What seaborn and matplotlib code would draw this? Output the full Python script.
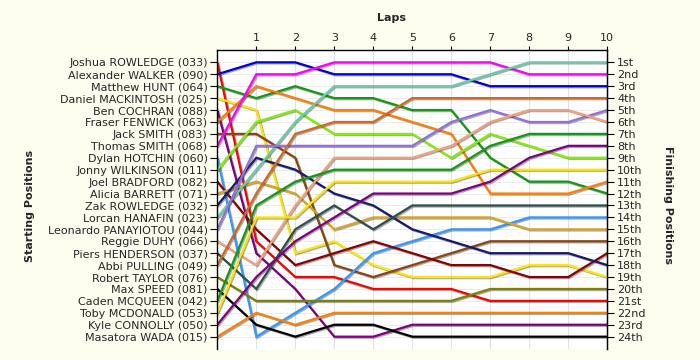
import matplotlib
matplotlib.use("Agg")
import matplotlib.patheffects as pe
import matplotlib.pyplot as plt
import pandas as pd
import seaborn as sns

drivers = [
    "Joshua ROWLEDGE (033)", "Alexander WALKER (090)", "Matthew HUNT (064)",
    "Daniel MACKINTOSH (025)", "Ben COCHRAN (088)", "Fraser FENWICK (063)",
    "Jack SMITH (083)", "Thomas SMITH (068)", "Dylan HOTCHIN (060)",
    "Jonny WILKINSON (011)", "Joel BRADFORD (082)", "Alicia BARRETT (071)",
    "Zak ROWLEDGE (032)", "Lorcan HANAFIN (023)", "Leonardo PANAYIOTOU (044)",
    "Reggie DUHY (066)", "Piers HENDERSON (037)", "Abbi PULLING (049)",
    "Robert TAYLOR (076)", "Max SPEED (081)", "Caden MCQUEEN (042)",
    "Toby MCDONALD (053)", "Kyle CONNOLLY (050)", "Masatora WADA (015)",
]

line_colors = [
    "#ff0000", "#0000dd", "#129a12", "#ffe600", "#800080", "#ff7f00",
    "#8b4513", "#ff00ff", "#3399ff", "#80f000", "#8b0000", "#daa520",
    "#191970", "#66cdaa", "#9370db", "#f4a07c", "#2f4f4f", "#d2691e",
    "#808000", "#000000", "#129a12", "#ffe600", "#800080", "#ff7f00",
]

laps = list(range(11))

# position of each driver (starting order) after each lap
positions = [
    [1, 16, 19, 19, 20, 20, 20, 21, 21, 21, 21],
    [2, 1, 1, 2, 2, 2, 2, 3, 3, 3, 3],
    [3, 4, 3, 4, 4, 5, 5, 9, 11, 11, 12],
    [4, 5, 17, 16, 18, 19, 19, 19, 18, 18, 19],
    [5, 17, 20, 24, 24, 23, 23, 23, 23, 23, 23],
    [6, 3, 4, 5, 5, 6, 7, 12, 12, 12, 11],
    [7, 7, 9, 18, 19, 18, 17, 16, 16, 16, 16],
    [8, 2, 2, 1, 1, 1, 1, 1, 2, 2, 2],
    [9, 24, 22, 20, 17, 16, 15, 15, 14, 14, 14],
    [10, 6, 5, 7, 7, 7, 9, 7, 8, 9, 9],
    [11, 15, 18, 17, 16, 17, 18, 18, 19, 19, 17],
    [12, 11, 12, 15, 14, 14, 14, 14, 15, 15, 15],
    [13, 9, 10, 12, 13, 15, 16, 17, 17, 17, 18],
    [14, 10, 6, 3, 3, 3, 3, 2, 1, 1, 1],
    [15, 8, 8, 8, 8, 8, 6, 5, 6, 6, 5],
    [16, 18, 13, 9, 9, 9, 8, 6, 5, 5, 6],
    [17, 20, 15, 13, 15, 13, 13, 13, 13, 13, 13],
    [18, 12, 7, 6, 6, 4, 4, 4, 4, 4, 4],
    [19, 21, 21, 21, 21, 21, 21, 20, 20, 20, 20],
    [20, 23, 24, 23, 23, 24, 24, 24, 24, 24, 24],
    [21, 13, 11, 10, 10, 10, 10, 8, 7, 7, 7],
    [22, 14, 14, 11, 11, 11, 11, 10, 10, 10, 10],
    [23, 19, 16, 14, 12, 12, 12, 11, 9, 8, 8],
    [24, 22, 23, 22, 22, 22, 22, 22, 22, 22, 22],
]

finish_labels = [
    "1st", "2nd", "3rd", "4th", "5th", "6th", "7th", "8th", "9th", "10th",
    "11th", "12th", "13th", "14th", "15th", "16th", "17th", "18th", "19th",
    "20th", "21st", "22nd", "23rd", "24th",
]

rows = []
for name, pos_list in zip(drivers, positions):
    for lap, pos in zip(laps, pos_list):
        rows.append({"driver": name, "lap": lap, "position": pos})
df = pd.DataFrame(rows)

sns.set_style("white")
plt.rcParams["font.family"] = ["DejaVu Sans"]

bg = "#fdfdf0"
fig = plt.figure(figsize=(7, 3.6), dpi=100, facecolor=bg)
ax = fig.add_axes([217.3 / 700, 1 - 348.6 / 360, 390 / 700, 298.2 / 360])
ax.set_facecolor("white")

sns.lineplot(data=df, x="lap", y="position", hue="driver", hue_order=drivers,
             palette=dict(zip(drivers, line_colors)), sort=False, legend=False,
             linewidth=1.6, ax=ax)

for line in ax.lines:
    line.set_path_effects([
        pe.SimpleLineShadow(offset=(0.8, -0.8), shadow_color="#404040", alpha=0.45),
        pe.Normal(),
    ])
    line.set_solid_joinstyle("miter")

ax.set_xlim(0, 10)
ax.set_ylim(25, 0)
ax.xaxis.tick_top()
ax.set_xticks(range(1, 11))
ax.set_xticklabels([str(i) for i in range(1, 11)], fontsize=8)
ax.set_yticks(range(1, 25))
ax.set_yticklabels(drivers, fontsize=8)
ax.set_xlabel("")
ax.set_ylabel("")
ax.tick_params(axis="x", length=3, pad=2, color="black")
ax.tick_params(axis="y", length=5, pad=2, color="black", left=True)

for x in range(1, 10):
    ax.axvline(x, color="#e2e2e2", lw=0.8, zorder=0)
for y in range(1, 25):
    ax.axhline(y, color="#ececec", lw=0.7, zorder=0)

for side in ["top", "left", "right"]:
    ax.spines[side].set_visible(True)
    ax.spines[side].set_color("black")
    ax.spines[side].set_linewidth(1.0)
ax.spines["bottom"].set_visible(False)

ax2 = ax.twinx()
ax2.set_ylim(25, 0)
ax2.set_yticks(range(1, 25))
ax2.set_yticklabels(finish_labels, fontsize=8)
ax2.tick_params(axis="y", length=5, pad=2, color="black", right=True)
ax2.spines["bottom"].set_visible(False)
ax2.spines["right"].set_color("black")
ax2.spines["left"].set_visible(False)
ax2.spines["top"].set_visible(False)

fig.text(391 / 700, 1 - 18 / 360, "Laps", ha="center", va="center",
         fontsize=8, fontweight="bold")
fig.text(30 / 700, 1 - 206 / 360, "Starting Positions", ha="center", va="center",
         rotation=90, fontsize=8, fontweight="bold")
fig.text(668 / 700, 1 - 205 / 360, "Finishing Positions", ha="center", va="center",
         rotation=270, fontsize=8, fontweight="bold")

fig.savefig("out.png", dpi=100, facecolor=bg)
